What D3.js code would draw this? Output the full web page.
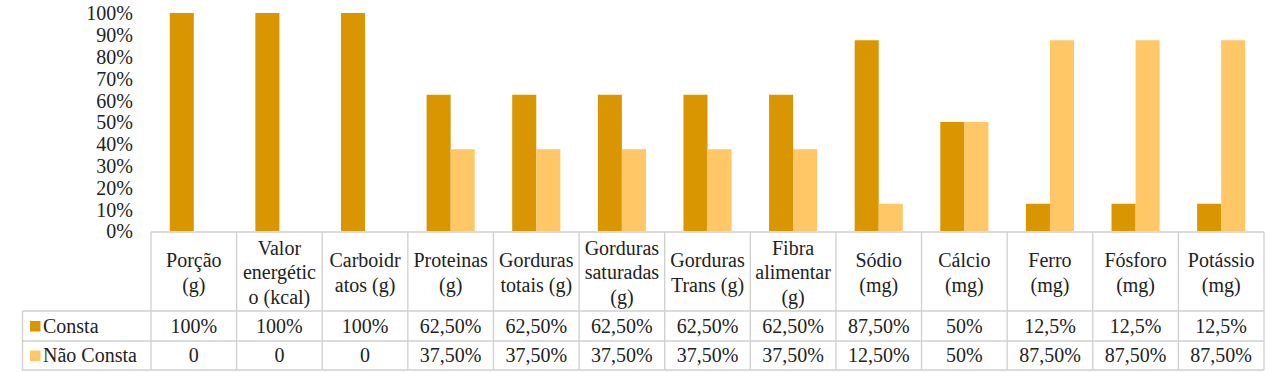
<!DOCTYPE html>
<html>
<head>
<meta charset="utf-8">
<script src="https://cdn.jsdelivr.net/npm/d3@7"></script>
<style>
  body { margin: 0; background: #fff; }
  svg text { font-family: "Liberation Serif", Tinos, "Times New Roman", Times, "DejaVu Serif", "Noto Serif", serif; fill: #222; }
</style>
</head>
<body>
<script>
// categories, with line breaks as drawn in the header row
const categories = [
    ['Porção', '(g)'],
    ['Valor', 'energétic', 'o (kcal)'],
    ['Carboidr', 'atos (g)'],
    ['Proteinas', '(g)'],
    ['Gorduras', 'totais (g)'],
    ['Gorduras', 'saturadas', '(g)'],
    ['Gorduras', 'Trans (g)'],
    ['Fibra', 'alimentar', '(g)'],
    ['Sódio', '(mg)'],
    ['Cálcio', '(mg)'],
    ['Ferro', '(mg)'],
    ['Fósforo', '(mg)'],
    ['Potássio', '(mg)']
];
const series = ['Consta', 'Não Consta'];
const consta = [100, 100, 100, 62.5, 62.5, 62.5, 62.5, 62.5, 87.5, 50, 12.5, 12.5, 12.5];
const naoConsta = [0, 0, 0, 37.5, 37.5, 37.5, 37.5, 37.5, 12.5, 50, 87.5, 87.5, 87.5];
const constaLabels = ['100%', '100%', '100%', '62,50%', '62,50%', '62,50%', '62,50%', '62,50%', '87,50%', '50%', '12,5%', '12,5%', '12,5%'];
const naoLabels = ['0', '0', '0', '37,50%', '37,50%', '37,50%', '37,50%', '37,50%', '12,50%', '50%', '87,50%', '87,50%', '87,50%'];
const yTicks = [0, 10, 20, 30, 40, 50, 60, 70, 80, 90, 100];
const colors = ['#D99600', '#FFC766'];

const w = 1271, h = 372;
const pl = 151, pr = 1264, pt = 13, pb = 232;
const legendLeft = 22.5;
const rowH = [79, 30, 29];   // header, Consta, Não Consta
const fam = '"Liberation Serif", Tinos, "Times New Roman", Times, "DejaVu Serif", "Noto Serif", serif';

const svg = d3.select('body').append('svg').attr('width', w).attr('height', h)
    .style('font-family', fam);

const idx = d3.range(categories.length);
const x = d3.scaleBand().domain(idx).range([pl, pr]).padding(0);
const xSub = d3.scaleBand().domain(series).range([0, x.bandwidth()]).paddingInner(0).paddingOuter(0.78);
const y = d3.scaleLinear().domain([0, 100]).range([pb - 1, pt]);

// y axis labels
const yAxis = d3.axisLeft(y).tickValues(yTicks).tickFormat(d => d + '%').tickSize(0).tickPadding(0);
const ya = svg.append('g').attr('transform', 'translate(133,0)').call(yAxis)
    .attr('font-family', null).attr('font-size', null);
ya.select('.domain').remove();
ya.selectAll('text').attr('font-size', 20).attr('fill', '#222').attr('dy', '0.34em');

// bars
const values = [consta, naoConsta];
series.forEach((s, si) => {
    svg.append('g').selectAll('rect')
        .data(idx.filter(i => values[si][i] > 0))
        .enter().append('rect')
        .attr('x', i => x(i) + xSub(s))
        .attr('width', xSub.bandwidth())
        .attr('y', i => y(values[si][i]))
        .attr('height', i => y(0) - y(values[si][i]))
        .attr('fill', colors[si]);
});

// data table
const grid = '#cfcfcf';
const t = svg.append('g');
const r0 = pb, r1 = r0 + rowH[0], r2 = r1 + rowH[1], r3 = r2 + rowH[2];
// horizontals
t.append('line').attr('x1', pl).attr('x2', pr).attr('y1', r0).attr('y2', r0);
[r1, r2, r3].forEach(yy => t.append('line').attr('x1', legendLeft).attr('x2', pr).attr('y1', yy).attr('y2', yy));
// verticals
idx.concat([categories.length]).forEach(i => {
    const xx = i < categories.length ? x(i) : pr;
    t.append('line').attr('x1', xx).attr('x2', xx).attr('y1', r0).attr('y2', r3);
});
t.append('line').attr('x1', legendLeft).attr('x2', legendLeft).attr('y1', r1).attr('y2', r3);
t.selectAll('line').attr('stroke', grid).attr('stroke-width', 1.3);

// header text
const lh = 24.5;
categories.forEach((lines, i) => {
    const cx = x(i) + x.bandwidth() / 2;
    const cy = (r0 + r1) / 2 + 1;
    const txt = t.append('text').attr('text-anchor', 'middle').attr('font-size', 20);
    lines.forEach((ln, k) => {
        txt.append('tspan').attr('x', cx)
            .attr('y', cy + (k - (lines.length - 1) / 2) * lh)
            .attr('dy', '0.34em').text(ln);
    });
});

// value rows
[constaLabels, naoLabels].forEach((labels, si) => {
    const ry = si === 0 ? (r1 + r2) / 2 : (r2 + r3) / 2;
    t.append('g').selectAll('text').data(idx).enter().append('text')
        .attr('x', i => x(i) + x.bandwidth() / 2)
        .attr('y', ry).attr('dy', '0.34em')
        .attr('text-anchor', 'middle').attr('font-size', 20)
        .text(i => labels[i]);
    t.append('rect').attr('x', 30).attr('y', ry - 5).attr('width', 10.5).attr('height', 10.5).attr('fill', colors[si]);
    t.append('text').attr('x', 43).attr('y', ry).attr('dy', '0.34em').attr('font-size', 20).text(series[si]);
});
</script>
</body>
</html>
